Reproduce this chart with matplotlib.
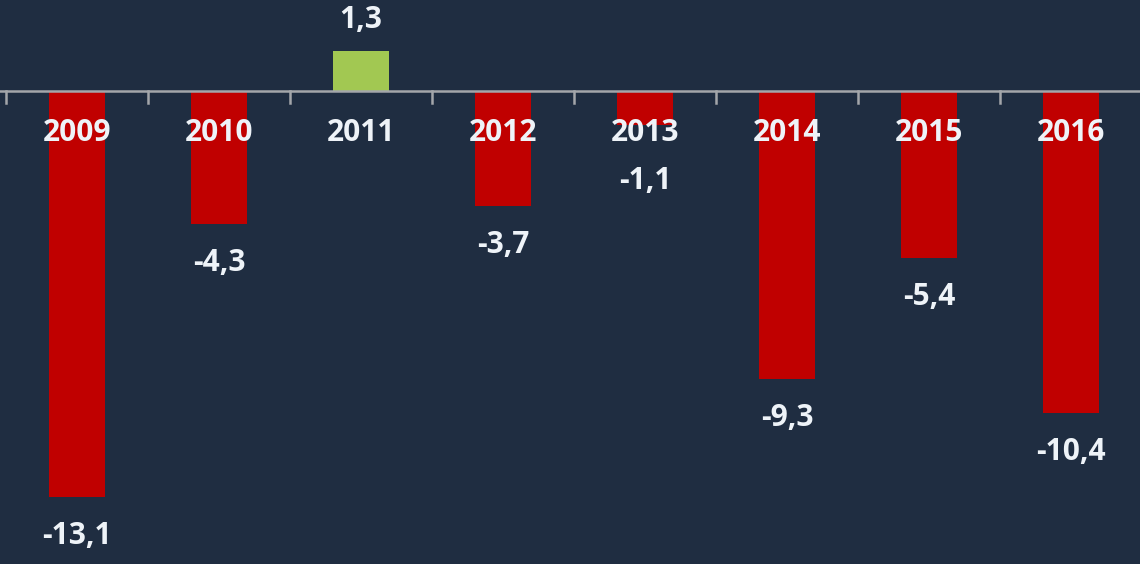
import numpy as np
import matplotlib.pyplot as plt

### DATA
years = ['2009', '2010', '2011', '2012', '2013', '2014', '2015', '2016']
values = [-13.1, -4.3, 1.3, -3.7, -1.1, -9.3, -5.4, -10.4]

bg = '#1f2d41'
red = '#c00000'
green = '#a2c852'
txt = '#eef3f8'

plt.rcParams['font.family'] = ['Open Sans', 'DejaVu Sans']

fig = plt.figure(figsize=(11.4, 5.64), dpi=100, facecolor=bg)
ax = fig.add_axes([0, 0, 1, 1])
ax.set_facecolor(bg)

x = np.arange(len(years))
cols = [green if v > 0 else red for v in values]
ax.bar(x, values, width=0.4, color=cols, zorder=2)

ax.set_xlim(-0.542, 7.486)
ax.set_ylim(-15.26, 2.94)

# axis line and ticks between categories
ax.axhline(0, color='#a3a6aa', lw=1.8, zorder=3)
for b in np.arange(-0.5, len(years) + 0.5):
    ax.plot([b, b], [0, -0.38], color='#a3a6aa', lw=1.8, zorder=3)

# year labels on top of the bars
for xi, y in zip(x, years):
    ax.text(xi, -1.36, y, ha='center', va='center', color=txt,
            fontsize=21.5, fontweight='bold', zorder=4)

# value labels
for xi, v in zip(x, values):
    lab = ('%.1f' % v).replace('.', ',')
    if v > 0:
        ty = v + 1.0
    elif v > -2:
        ty = -2.9
    else:
        ty = v - 1.25
    ax.text(xi, ty, lab, ha='center', va='center', color=txt,
            fontsize=21.5, fontweight='bold', zorder=4)

ax.axis('off')
plt.savefig('out.png', dpi=100, facecolor=bg)
